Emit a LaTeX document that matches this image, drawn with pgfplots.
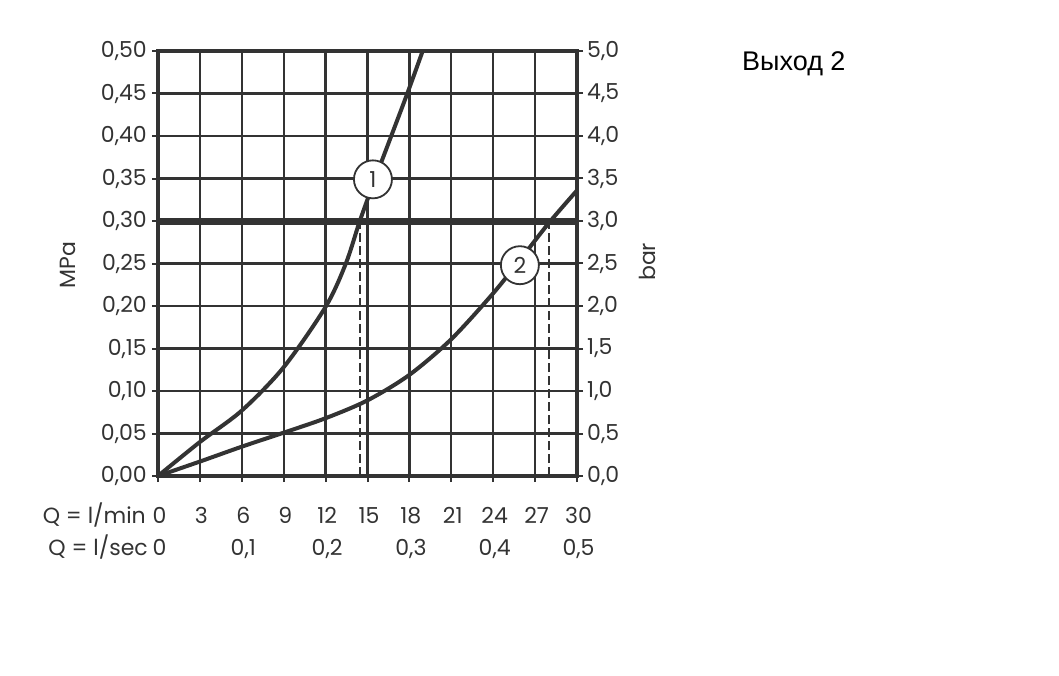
\documentclass[border=0pt]{standalone}
\usepackage{pgfplots}
\pgfplotsset{compat=1.18}
\usepackage{fontspec}
\setmainfont{Poppins}
\newfontfamily\arial{Liberation Sans}
\definecolor{ink}{HTML}{333333}
\begin{document}
\begin{tikzpicture}[x=1pt,y=1pt]
\path[use as bounding box] (0,0) rectangle (1059,675);
\begin{axis}[
  at={(158pt,199pt)}, anchor=south west,
  scale only axis, width=419pt, height=425pt,
  xmin=0, xmax=30, ymin=0, ymax=0.5,
  xtick={0,3,...,30},
  ytick={0,0.05,0.1,0.15,0.2,0.25,0.3,0.35,0.4,0.45,0.5},
  yticklabels={{0,00},{0,05},{0,10},{0,15},{0,20},{0,25},{0,30},{0,35},{0,40},{0,45},{0,50}},
  xtick pos=bottom, ytick pos=left,
  grid=major, grid style={ink, line width=2.3pt},
  axis line style={ink, line width=3.6pt},
  tick style={ink, line width=2pt},
  tick align=outside, major tick length=6pt,
  /pgf/number format/assume math mode=true,
  tick label style={font=\fontsize{22}{22}\selectfont, text=ink},
  yticklabel style={inner sep=0pt, xshift=-5pt},
  xticklabel style={anchor=base, inner sep=0pt, yshift=-41pt, xshift=1.5pt},
  extra x ticks={0,6,12,18,24,30},
  extra x tick labels={0,{0,1},{0,2},{0,3},{0,4},{0,5}},
  extra x tick style={grid=none, major tick length=0pt,
    xticklabel style={yshift=-38pt}},
  clip mode=individual,
]
% thick 0.30 line
\addplot[ink, line width=7pt] coordinates {(0,0.3) (30,0.3)};
% dashed guides
\addplot[ink, line width=1.6pt, dash pattern=on 9pt off 4pt] coordinates {(14.45,0) (14.45,0.3)};
\addplot[ink, line width=1.6pt, dash pattern=on 9pt off 4pt] coordinates {(28.0,0) (28.0,0.3)};
% curve 1
\addplot[ink, line width=4pt, smooth] coordinates {
  (0,0) (3,0.04) (6,0.077) (9,0.128) (12,0.199) (13.45,0.25) (14.45,0.30)
  (15.55,0.35) (16.7,0.40) (17.85,0.45) (18.95,0.50)};
% curve 2
\addplot[ink, line width=4pt, smooth] coordinates {
  (0,0) (3,0.017) (6,0.0345) (9,0.051) (12,0.068) (15,0.089) (18,0.119)
  (21,0.161) (24,0.215) (26,0.256) (28,0.298) (30,0.336)};
\node[circle, draw=ink, line width=1.8pt, fill=white, minimum size=38pt, inner sep=0pt,
  font=\fontsize{22}{22}\selectfont, text=ink] at (axis cs:15.39,0.349) {1};
\node[circle, draw=ink, line width=1.8pt, fill=white, minimum size=38pt, inner sep=0pt,
  font=\fontsize{22}{22}\selectfont, text=ink] at (axis cs:25.91,0.248) {2};
\node[anchor=base east, inner sep=0pt, font=\fontsize{22}{22}\selectfont, text=ink,
  xshift=-12pt, yshift=-47pt] at (axis cs:0,0) {Q = l/min};
\node[anchor=base east, inner sep=0pt, font=\fontsize{22}{22}\selectfont, text=ink,
  xshift=-10pt, yshift=-79pt] at (axis cs:0,0) {Q = l/sec};
\node[rotate=90, font=\fontsize{22}{22}\selectfont, text=ink]
  at (axis description cs:-0.215,0.496) {MPa};
\end{axis}
\begin{axis}[
  at={(158pt,199pt)}, anchor=south west,
  scale only axis, width=419pt, height=425pt,
  xmin=0, xmax=30, ymin=0, ymax=5,
  hide x axis,
  axis y line*=right,
  ytick={0,0.5,1,1.5,2,2.5,3,3.5,4,4.5,5},
  yticklabels={{0,0},{0,5},{1,0},{1,5},{2,0},{2,5},{3,0},{3,5},{4,0},{4,5},{5,0}},
  axis line style={ink, line width=3.6pt},
  tick style={ink, line width=2pt},
  tick align=outside, major tick length=6pt,
  /pgf/number format/assume math mode=true,
  tick label style={font=\fontsize{22}{22}\selectfont, text=ink},
  yticklabel style={inner sep=0pt, xshift=4pt},
  clip mode=individual,
]
\node[rotate=90, font=\fontsize{22}{22}\selectfont, text=ink]
  at (axis description cs:1.169,0.504) {bar};
\end{axis}
\node[anchor=west, inner sep=0pt, font=\arial\fontsize{27}{27}\selectfont] at (742,611) {Выход 2};
\end{tikzpicture}
\end{document}
